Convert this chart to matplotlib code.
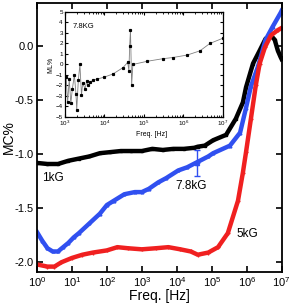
import numpy as np
import matplotlib.pyplot as plt

plt.rcParams['font.family'] = ['Liberation Sans', 'DejaVu Sans']

# main panel: log10(freq) and MC%
f_1kg = [0.0, 0.3, 0.6, 0.9, 1.2, 1.5, 1.8, 2.1, 2.4, 2.7, 3.0, 3.3, 3.6, 3.9,
         4.2, 4.5, 4.6, 4.8, 5.04, 5.41, 5.69, 5.89, 5.98, 6.18, 6.37, 6.54,
         6.69, 6.80, 6.89, 6.97, 7.0]
mc_1kg = [-1.08, -1.09, -1.09, -1.06, -1.04, -1.02, -0.99, -0.98, -0.97, -0.97,
          -0.97, -0.95, -0.96, -0.95, -0.95, -0.94, -0.93, -0.92, -0.87, -0.82,
          -0.67, -0.52, -0.38, -0.16, -0.04, 0.07, 0.10, 0.06, -0.04, -0.10, -0.12]

f_78kg = [0.0, 0.15, 0.3, 0.45, 0.6, 0.75, 0.9, 1.05, 1.2, 1.5, 1.8, 2.0, 2.2,
          2.5, 2.8, 3.0, 3.2, 3.47, 3.7, 4.04, 4.3, 4.6, 4.9, 5.04, 5.52, 5.81,
          5.98, 6.12, 6.32, 6.54, 6.74, 6.97, 7.0]
mc_78kg = [-1.72, -1.80, -1.87, -1.90, -1.90, -1.86, -1.82, -1.77, -1.73, -1.64,
           -1.55, -1.47, -1.43, -1.37, -1.35, -1.35, -1.32, -1.26, -1.22, -1.15,
           -1.12, -1.07, -1.02, -0.99, -0.92, -0.80, -0.57, -0.37, -0.19, 0.06,
           0.18, 0.31, 0.33]

f_5kg = [0.0, 0.3, 0.5, 0.7, 1.0, 1.3, 1.6, 2.0, 2.3, 2.6, 3.0, 3.4, 3.76, 4.1,
         4.4, 4.6, 4.9, 5.18, 5.46, 5.75, 5.89, 5.98, 6.12, 6.26, 6.37, 6.52,
         6.69, 6.89, 7.0]
mc_5kg = [-2.02, -2.04, -2.04, -2.00, -1.96, -1.93, -1.91, -1.89, -1.86, -1.87,
          -1.88, -1.87, -1.86, -1.88, -1.90, -1.93, -1.91, -1.86, -1.73, -1.43,
          -1.17, -0.98, -0.67, -0.36, -0.16, -0.01, 0.10, 0.15, 0.17]

# inset: log10(freq) and ML% at 7.8 kG
f_ml = [3.03, 3.07, 3.11, 3.15, 3.19, 3.24, 3.28, 3.30, 3.34, 3.38, 3.42, 3.45,
        3.51, 3.55, 3.59, 3.63, 3.72, 3.81, 4.0, 4.22, 4.47, 4.59, 4.62, 4.64,
        4.66, 4.69, 4.72, 5.08, 5.48, 5.73, 6.1, 6.42, 6.67, 7.0]
ml = [-1.2, -3.6, -1.4, -3.7, -2.3, -1.0, -2.8, -4.3, -1.5, 0.0, -2.9, -1.8,
      -2.3, -1.6, -2.0, -1.7, -1.5, -1.4, -1.2, -0.9, -0.3, 0.2, -0.6, 1.8,
      3.3, -2.0, 0.0, 0.3, 0.55, 0.66, 0.9, 1.3, 2.0, 2.5]

fig = plt.figure(figsize=(2.91, 3.07), dpi=100)
ax = fig.add_axes([0.127, 0.114, 0.841, 0.876])

ax.plot(10**np.array(f_1kg), mc_1kg, color='black', lw=3.2, marker='s', ms=2)
ax.plot(10**np.array(f_78kg), mc_78kg, color='#3050f0', lw=3.2, marker='^', ms=2)
ax.plot(10**np.array(f_5kg), mc_5kg, color='#f02020', lw=3.2, marker='+', ms=3)
ax.errorbar([10**4.58], [-1.08], yerr=[0.12], color='#3050f0', marker='^',
            ms=3, capsize=2, lw=1)

ax.set_xscale('log')
ax.set_xlim(1, 1e7)
ax.set_ylim(-2.09, 0.4)
ax.set_xticks([10**i for i in range(8)])
ax.set_yticks([-2.0, -1.5, -1.0, -0.5, 0.0])
ax.set_yticklabels(['-2.0', '-1.5', '-1.0', '-0.5', '0.0'])
ax.tick_params(direction='in', top=True, right=True, labelsize=8, length=4,
               width=1.2, pad=2.5)
ax.tick_params(which='minor', direction='in', top=True, length=2, width=0.8)
for s in ax.spines.values():
    s.set_linewidth(1.3)
ax.set_xlabel('Freq. [Hz]', fontsize=10, labelpad=0)
ax.set_ylabel('MC%', fontsize=10)
ax.yaxis.set_label_coords(-0.085, 0.5)

ax.text(10**0.15, -1.25, '1kG', fontsize=8.5)
ax.text(10**3.95, -1.32, '7.8kG', fontsize=8.5)
ax.text(10**5.7, -1.77, '5kG', fontsize=8.5)

ins = fig.add_axes([0.223, 0.619, 0.543, 0.342])
ins.plot(10**np.array(f_ml), ml, color='#808080', lw=0.6, marker='s', ms=1.3,
         mfc='black', mec='black')
ins.set_xscale('log')
ins.set_xlim(1e3, 1e7)
ins.set_ylim(-5, 5)
ins.set_yticks(range(-5, 6))
ins.set_xticks([10**i for i in range(3, 8)])
ins.tick_params(direction='in', top=True, right=True, labelsize=4.5, length=2.5,
                width=0.8, pad=1.5)
ins.tick_params(which='minor', direction='in', top=True, length=1.5, width=0.6)
for s in ins.spines.values():
    s.set_linewidth(0.9)
ins.set_ylabel('ML%', fontsize=5, labelpad=1)
ins.set_xlabel('Freq. [Hz]', fontsize=5)
ins.xaxis.set_label_coords(0.55, -0.13)
ins.text(10**3.2, 3.5, '7.8KG', fontsize=5.5)

fig.savefig('out.png', dpi=100)
